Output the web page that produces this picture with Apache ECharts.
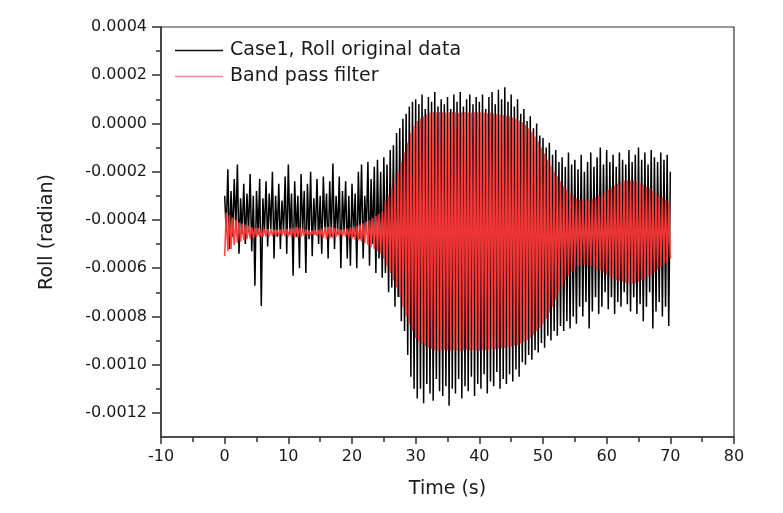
<!DOCTYPE html>
<html>
<head>
<meta charset="utf-8">
<script src="https://cdn.jsdelivr.net/npm/echarts@6/dist/echarts.min.js"></script>
<style>
html,body{margin:0;padding:0;background:#fff;}
#chart{width:783px;height:513px;}
</style>
</head>
<body>
<div id="chart"></div>
<script>
// Sample spacing of both records (s)
var sampleStep = 0.25;

// Roll, original data (micro-radian), one value per sample starting at t = 0 s
var rollOriginal = [
  -300,-450,-190,-520,-280,-470,-230,-440,-170,-540,-310,-460,-250,-500,-290,-450,-210,-530,-300,-673,
  -280,-460,-230,-757,-310,-450,-240,-510,-290,-440,-200,-560,-300,-470,-250,-520,-320,-450,-220,-540,
  -170,-460,-290,-631,-240,-470,-300,-600,-210,-450,-280,-620,-250,-480,-200,-550,-310,-460,-230,-500,
  -300,-540,-220,-450,-290,-560,-240,-470,-166,-520,-300,-460,-220,-600,-280,-450,-240,-560,-300,-590,
  -250,-470,-290,-600,-200,-480,-170,-560,-300,-450,-160,-590,-230,-500,-180,-620,-150,-560,-200,-640,
  -140,-620,-170,-700,-110,-680,-90,-760,-40,-720,-20,-820,20,-860,40,-960,70,-1050,90,-1100,
  100,-1140,80,-1100,120,-1160,60,-1080,110,-1120,90,-1150,130,-1060,70,-1110,100,-1130,80,-1090,
  110,-1170,60,-1100,120,-1120,90,-1060,130,-1140,70,-1090,100,-1110,120,-1050,80,-1130,110,-1080,
  90,-1100,120,-1040,60,-1120,110,-1070,130,-1090,80,-1030,140,-1100,100,-1060,150,-1080,90,-1040,
  120,-1070,70,-1020,100,-1050,40,-990,60,-1000,10,-960,30,-980,-20,-940,0,-950,-50,-910,
  -60,-930,-100,-880,-80,-900,-130,-860,-110,-880,-160,-840,-140,-860,-180,-820,-120,-850,-170,-800,
  -150,-830,-190,-760,-130,-800,-200,-740,-160,-850,-120,-780,-180,-720,-140,-790,-100,-760,-170,-700,
  -110,-770,-160,-720,-130,-790,-180,-740,-120,-760,-150,-700,-170,-750,-110,-780,-160,-720,-130,-790,
  -100,-750,-150,-820,-120,-760,-170,-700,-110,-850,-140,-780,-160,-740,-120,-800,-150,-760,-130,-840,
  -200
];

// Band pass filtered roll (micro-radian), same samples
var rollBandPass = [
  -550,-370,-530,-380,-520,-390,-505,-400,-495,-410,-490,-415,-485,-420,-480,-425,-478,-430,-474,-432,
  -472,-434,-470,-436,-470,-437,-468,-438,-468,-440,-466,-440,-466,-442,-465,-440,-466,-438,-467,-437,
  -468,-436,-470,-432,-472,-430,-474,-432,-470,-436,-468,-440,-464,-444,-462,-445,-463,-443,-466,-440,
  -470,-436,-475,-430,-480,-428,-478,-430,-474,-434,-470,-436,-468,-440,-466,-440,-470,-436,-474,-430,
  -478,-428,-482,-424,-486,-420,-490,-414,-496,-408,-504,-400,-512,-392,-520,-384,-530,-374,-540,-364,
  -560,-320,-590,-300,-620,-270,-650,-240,-680,-200,-720,-160,-760,-120,-800,-80,-830,-40,-860,-10,
  -890,10,-905,20,-915,30,-925,38,-930,44,-935,47,-940,45,-942,48,-940,46,-938,44,
  -940,46,-942,48,-938,45,-940,43,-943,46,-940,48,-938,45,-941,44,-939,47,-940,45,
  -942,46,-938,44,-940,42,-937,44,-935,40,-936,38,-934,36,-932,34,-930,32,-928,30,
  -926,25,-922,20,-918,12,-912,5,-905,-5,-898,-20,-888,-35,-876,-55,-862,-75,-848,-100,
  -830,-125,-810,-150,-785,-175,-760,-200,-730,-220,-700,-240,-675,-260,-650,-275,-630,-290,-615,-300,
  -600,-310,-592,-316,-588,-318,-586,-318,-588,-316,-592,-312,-598,-306,-604,-300,-610,-292,-618,-284,
  -626,-275,-634,-266,-642,-258,-648,-250,-652,-245,-656,-240,-660,-237,-662,-236,-662,-238,-660,-242,
  -656,-248,-650,-255,-644,-262,-636,-270,-628,-280,-618,-290,-606,-300,-596,-308,-588,-316,-580,-325,
  -560
];

var seriesNames = ['Case1, Roll original data', 'Band pass filter'];

// Axis ticks (x in s, y in micro-radian)
var xTicks = [-10, 0, 10, 20, 30, 40, 50, 60, 70, 80];
var yMajorTicks = [-1200, -1000, -800, -600, -400, -200, 0, 200, 400];
var yMinorTicks = [-1100, -900, -700, -500, -300, -100, 100, 300];

function toPairs(arr) {
  return arr.map(function (v, i) { return [i * sampleStep, v]; });
}

var FONT = 'DejaVu Sans';
var AX = '#333';
var TXT = '#1a1a1a';

var chart = echarts.init(document.getElementById('chart'), null, {renderer: 'canvas'});
chart.setOption({
  animation: false,
  backgroundColor: '#fff',
  textStyle: {fontFamily: FONT},
  grid: {left: 161, right: 49, top: 27, bottom: 76, show: true, borderColor: AX, borderWidth: 1.2, containLabel: false},
  legend: {
    left: 175, top: 40, orient: 'vertical', padding: 0,
    icon: 'rect', itemWidth: 48, itemHeight: 1.5, itemGap: 5,
    textStyle: {fontFamily: FONT, fontSize: 19, lineHeight: 21, color: TXT, padding: [0, 0, 0, 2]},
    data: [
      {name: seriesNames[0], itemStyle: {color: '#111'}},
      {name: seriesNames[1], itemStyle: {color: '#f28a94'}}
    ]
  },
  xAxis: {
    type: 'value', min: xTicks[0], max: xTicks[xTicks.length - 1], interval: 10,
    name: 'Time (s)', nameLocation: 'middle', nameGap: 43,
    nameTextStyle: {fontFamily: FONT, fontSize: 19, color: TXT},
    axisLine: {show: true, onZero: false, lineStyle: {color: AX, width: 1.5}},
    axisTick: {show: true, length: 7, lineStyle: {color: AX, width: 1.5}},
    minorTick: {show: true, splitNumber: 2, length: 5, lineStyle: {color: AX, width: 1.5}},
    axisLabel: {fontFamily: FONT, fontSize: 16, color: TXT, margin: 12},
    splitLine: {show: false}
  },
  yAxis: [{
    type: 'value', min: -1300, max: 400,
    name: 'Roll (radian)', nameLocation: 'middle', nameGap: 104,
    nameTextStyle: {fontFamily: FONT, fontSize: 19, color: TXT},
    axisLine: {show: true, onZero: false, lineStyle: {color: AX, width: 1.5}},
    axisTick: {show: true, length: 9, customValues: yMajorTicks, lineStyle: {color: AX, width: 1.5}},
    axisLabel: {fontFamily: FONT, fontSize: 16, color: TXT, margin: 14, customValues: yMajorTicks,
      formatter: function (v) { return (v / 1e6).toFixed(4); }},
    splitLine: {show: false}
  }, {
    type: 'value', min: -1300, max: 400, position: 'left', offset: 0,
    axisLine: {show: false, onZero: false},
    axisTick: {show: true, length: 5, customValues: yMinorTicks, lineStyle: {color: AX, width: 1.5}},
    axisLabel: {show: false, customValues: yMinorTicks},
    splitLine: {show: false}
  }],
  series: [{
    name: seriesNames[0], type: 'line', yAxisIndex: 0, data: toPairs(rollOriginal),
    symbol: 'none', sampling: null, silent: true,
    lineStyle: {color: '#000', width: 1.5}, itemStyle: {color: '#000'}
  }, {
    name: seriesNames[1], type: 'line', yAxisIndex: 0, data: toPairs(rollBandPass),
    symbol: 'none', sampling: null, silent: true,
    lineStyle: {color: 'rgb(255,55,55)', width: 1.6, opacity: 0.92}, itemStyle: {color: 'rgb(255,55,55)'}
  }]
});
</script>
</body>
</html>
